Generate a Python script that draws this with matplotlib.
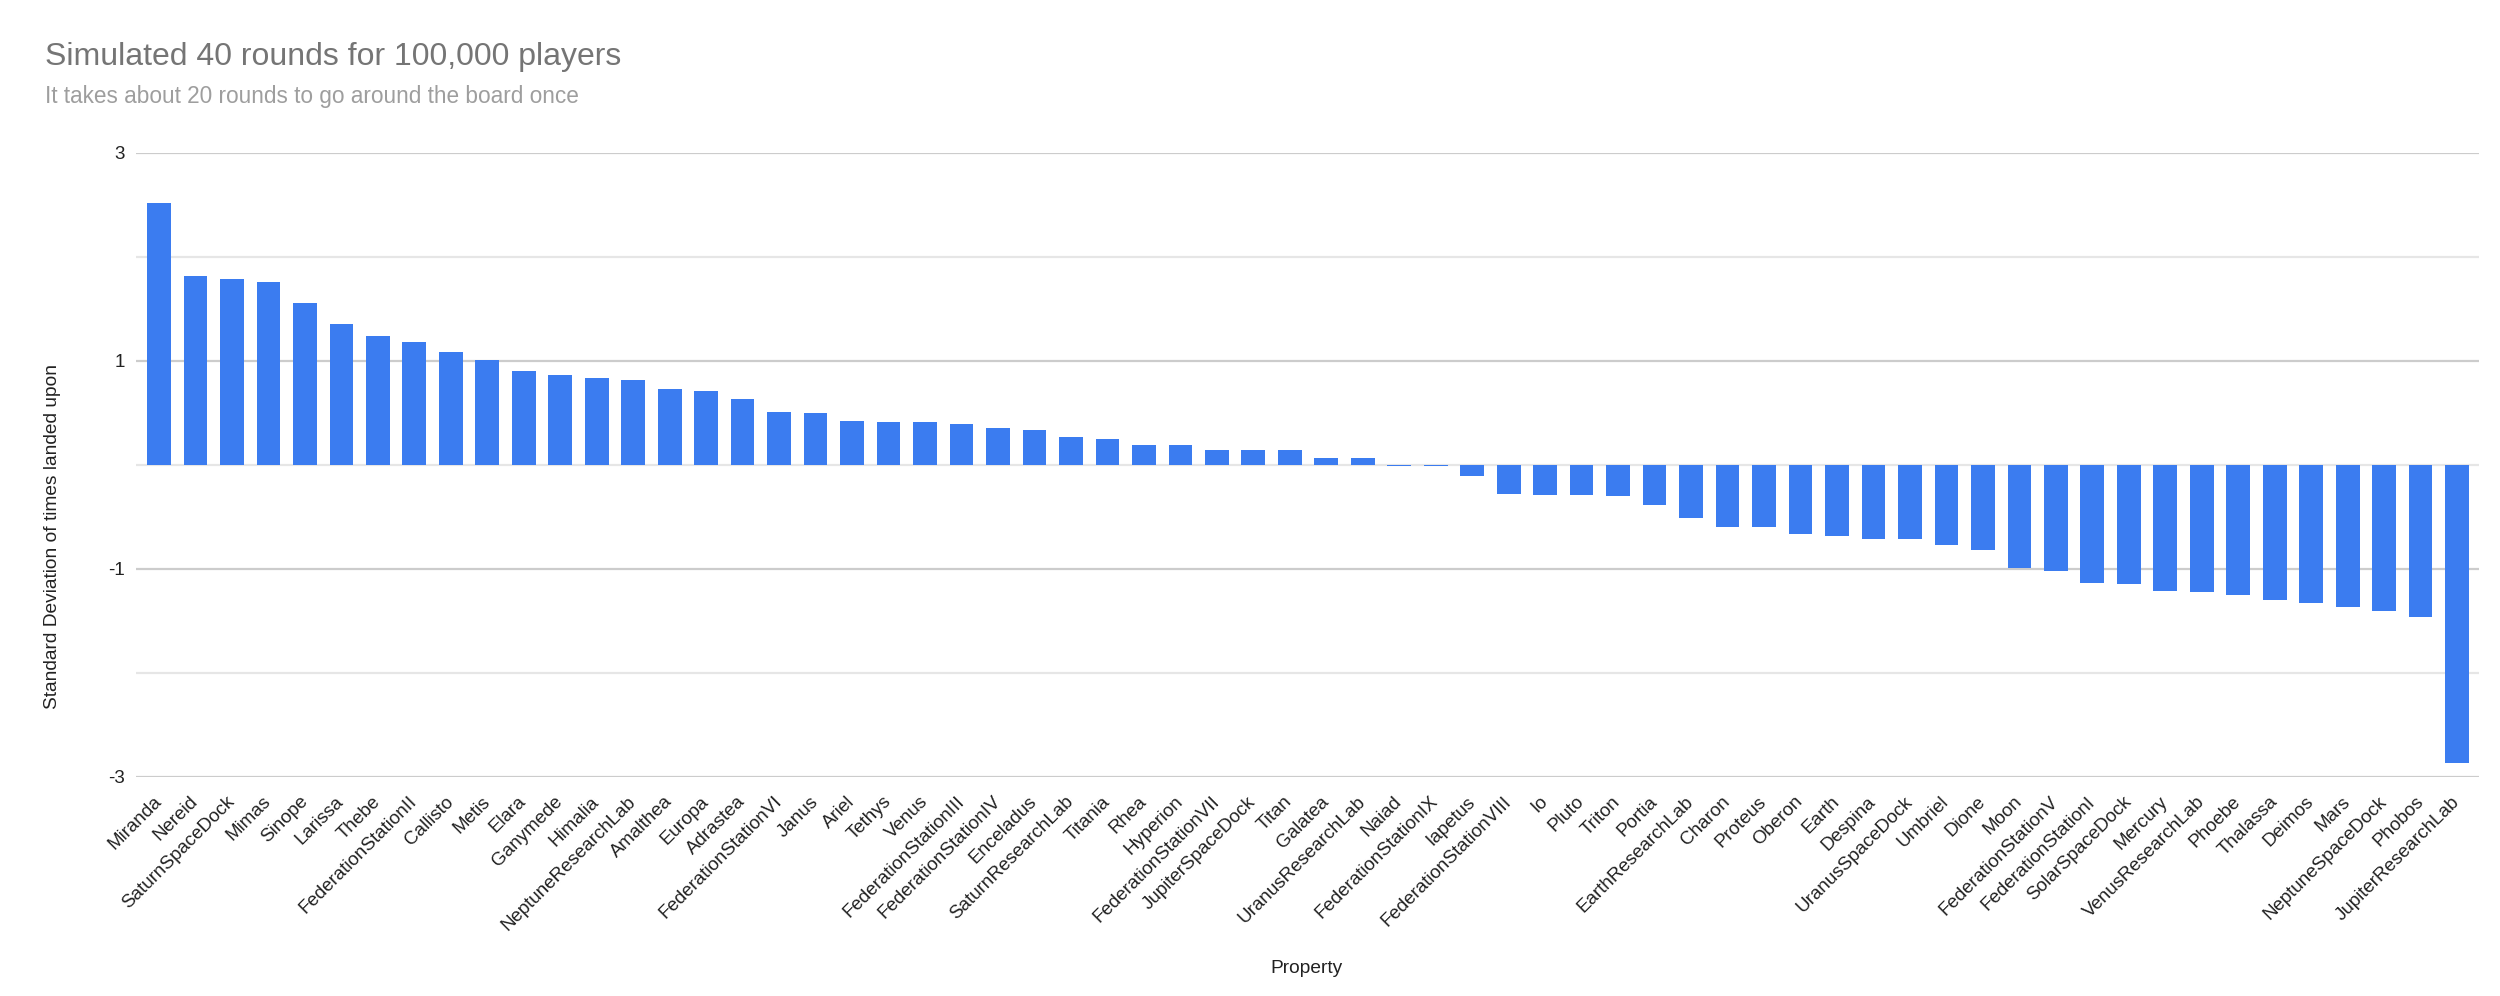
import matplotlib
matplotlib.use("Agg")
import matplotlib.pyplot as plt

plt.rcParams["font.family"] = ["Liberation Sans", "DejaVu Sans"]

properties = [
    "Miranda", "Nereid", "SaturnSpaceDock", "Mimas", "Sinope", "Larissa", "Thebe",
    "FederationStationII", "Callisto", "Metis", "Elara", "Ganymede", "Himalia",
    "NeptuneResearchLab", "Amalthea", "Europa", "Adrastea", "FederationStationVI",
    "Janus", "Ariel", "Tethys", "Venus", "FederationStationIII", "FederationStationIV",
    "Enceladus", "SaturnResearchLab", "Titania", "Rhea", "Hyperion",
    "FederationStationVII", "JupiterSpaceDock", "Titan", "Galatea", "UranusResearchLab",
    "Naiad", "FederationStationIX", "Iapetus", "FederationStationVIII", "Io", "Pluto",
    "Triton", "Portia", "EarthResearchLab", "Charon", "Proteus", "Oberon", "Earth",
    "Despina", "UranusSpaceDock", "Umbriel", "Dione", "Moon", "FederationStationV",
    "FederationStationI", "SolarSpaceDock", "Mercury", "VenusResearchLab", "Phoebe",
    "Thalassa", "Deimos", "Mars", "NeptuneSpaceDock", "Phobos", "JupiterResearchLab",
]

std_dev = [
    2.52, 1.82, 1.79, 1.76, 1.56, 1.36, 1.24, 1.18, 1.09, 1.01,
    0.90, 0.87, 0.84, 0.82, 0.73, 0.71, 0.63, 0.51, 0.50, 0.42,
    0.41, 0.41, 0.39, 0.36, 0.34, 0.27, 0.25, 0.19, 0.19, 0.14,
    0.14, 0.14, 0.064, 0.064, -0.01, -0.01, -0.106, -0.276, -0.29, -0.29,
    -0.30, -0.38, -0.505, -0.60, -0.60, -0.66, -0.68, -0.71, -0.71, -0.77,
    -0.82, -0.99, -1.02, -1.13, -1.14, -1.21, -1.22, -1.25, -1.30, -1.33,
    -1.37, -1.40, -1.46, -2.87,
]

y_ticks = [-3, -1, 1, 3]
grid_major = [-3, -1, 1, 3]
grid_minor = [-2, 0, 2]

fig = plt.figure(figsize=(25, 9.96), dpi=100)
ax = fig.add_axes([0.0544, 0.2199, 0.9372, 0.6265])

x = range(len(properties))
ax.bar(x, std_dev, width=0.65, color="#3b7cf0", zorder=3)

for v in grid_major:
    ax.axhline(v, color="#cccccc", linewidth=1.6, zorder=1)
for v in grid_minor:
    ax.axhline(v, color="#e6e6e6", linewidth=1.6, zorder=1)

ax.set_ylim(-3, 3)
ax.set_xlim(-0.63, len(properties) - 0.4)
ax.set_yticks(y_ticks)
ax.set_yticklabels([str(t) for t in y_ticks], fontsize=13.5, color="#222222")
ax.set_xticks(list(x))
ax.set_xticklabels(properties, rotation=45, ha="right", va="center",
                   rotation_mode="anchor", fontsize=13.5, color="#222222")
ax.tick_params(axis="both", length=0)
ax.tick_params(axis="x", pad=16)
ax.tick_params(axis="y", pad=8)
for s in ax.spines.values():
    s.set_visible(False)

fig.text(0.018, 1 - 57 / 996, "Simulated 40 rounds for 100,000 players",
         fontsize=23, color="#757575", va="center", ha="left")
fig.text(0.018, 1 - 96 / 996, "It takes about 20 rounds to go around the board once",
         fontsize=16.3, color="#9e9e9e", va="center", ha="left")
fig.text(0.0212, 1 - 536 / 996, "Standard Deviation of times landed upon",
         fontsize=13.8, color="#222222", rotation=90, va="center", ha="center")
fig.text(0.5228, 1 - 968 / 996, "Property", fontsize=13.8, color="#222222",
         va="center", ha="center")

fig.savefig("out.png", dpi=100, facecolor="white")
